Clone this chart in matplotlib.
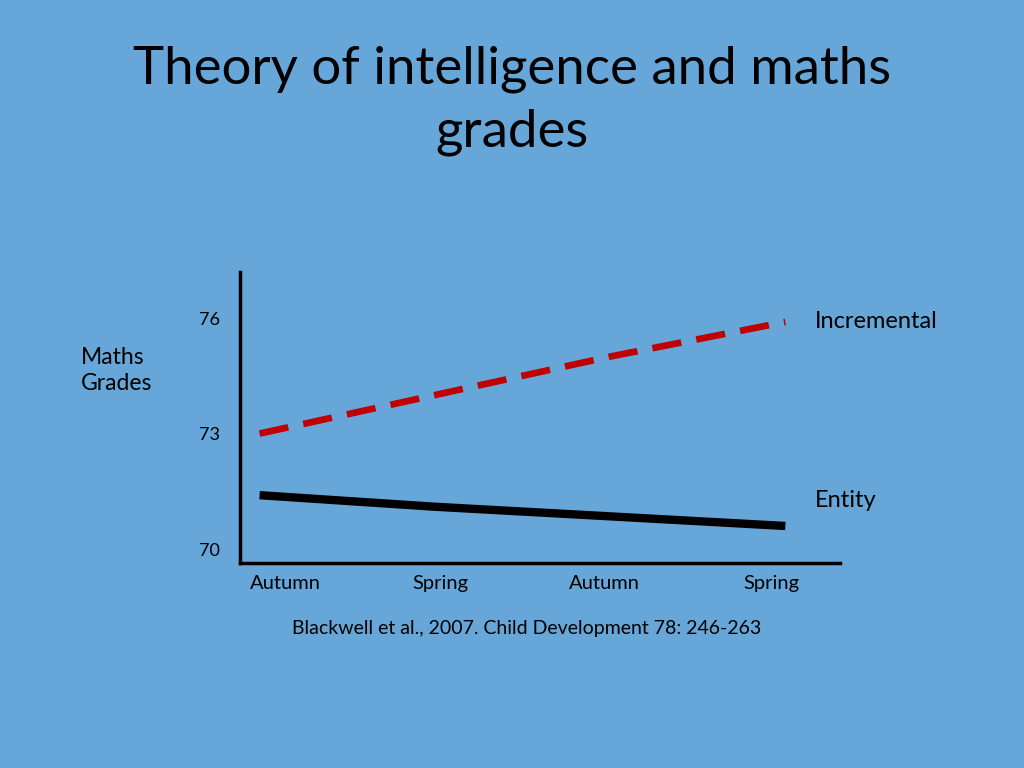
import matplotlib
matplotlib.use('Agg')
import matplotlib.pyplot as plt

# data
seasons = ['Autumn', 'Spring', 'Autumn', 'Spring']
incremental = [73.0, 74.0, 75.0, 75.9]
entity = [71.4, 71.1, 70.85, 70.6]
ytick_values = [70, 73, 76]
ytick_labels = ['70', '73', '76']

bg = '#66a6d8'
font = 'Lato'

fig = plt.figure(figsize=(10.24, 7.68), dpi=100, facecolor=bg)
ax = fig.add_axes([0.234, 0.267, 0.586, 0.379])
ax.set_facecolor(bg)

x = list(range(len(seasons)))
ax.plot(x, incremental, color='#c00000', lw=4.8, dashes=(4.4, 2.3), dash_capstyle='butt')
ax.plot(x, entity, color='black', lw=6, solid_capstyle='butt')

ax.set_xlim(-0.114, 3.31)
ax.set_ylim(69.64, 77.2)

for side in ['top', 'right']:
    ax.spines[side].set_visible(False)
for side in ['left', 'bottom']:
    ax.spines[side].set_linewidth(2.5)
    ax.spines[side].set_color('black')

# the slide's season labels are not quite under the line's end points
label_nudge = [0.15, 0.03, -0.03, -0.08]
ax.set_xticks([i + n for i, n in zip(x, label_nudge)])
ax.set_xticklabels(seasons, fontfamily=font, fontsize=14.5)
ax.set_yticks(ytick_values)
ax.set_yticklabels(ytick_labels, fontfamily=font, fontsize=13)
ax.tick_params(axis='both', length=0)
ax.tick_params(axis='x', pad=9)
ax.tick_params(axis='y', pad=14)

ax.text(3.17, incremental[-1] + 0.02, 'Incremental', fontfamily=font, fontsize=17, va='center', ha='left')
ax.text(3.17, 71.25, 'Entity', fontfamily=font, fontsize=17, va='center', ha='left')

fig.text(0.079, 0.518, 'Maths\nGrades', fontfamily=font, fontsize=16.5, va='center', ha='left', linespacing=1.3)

fig.text(0.5, 0.869, 'Theory of intelligence and maths\ngrades', fontfamily=font, fontsize=38,
         ha='center', va='center', linespacing=1.42)

fig.text(0.514, 0.181, 'Blackwell et al., 2007. Child Development 78: 246-263', fontfamily=font,
         fontsize=14, ha='center', va='center')

fig.savefig('out.png', dpi=100, facecolor=bg)
